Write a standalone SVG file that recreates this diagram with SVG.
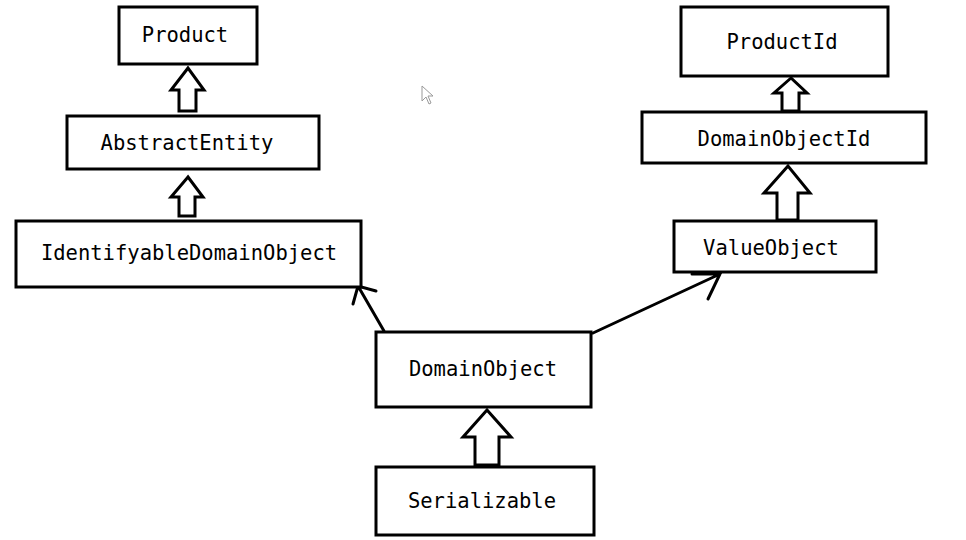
<svg xmlns="http://www.w3.org/2000/svg" width="966" height="540" viewBox="0 0 966 540">
<style>
.box{fill:#fff;stroke:#000;stroke-width:3}
.lbl{font-family:"DejaVu Sans Mono","Liberation Mono",monospace;font-size:20.5px;fill:#000;text-anchor:middle}
.blk{fill:#fff;stroke:#000;stroke-width:3;stroke-linejoin:miter}
.ln{fill:none;stroke:#000;stroke-width:3;stroke-linecap:round}
</style>
<rect width="966" height="540" fill="#fff"/>
<g id="connectors">
<polygon class="blk" points="188,68 171,90 179,90 179,111 196,111 196,90 204,90"/>
<polygon class="blk" points="188,177 171,197 179,197 179,216 195,216 195,197 203,197"/>
<polygon class="blk" points="791,78 774,93 782,93 782,111 799,111 799,93 807,93"/>
<polygon class="blk" points="788,166 764,193 777,193 777,220 798,220 798,193 810,193"/>
<polygon class="blk" points="487,410 463,437 475,437 475,465 499,465 499,437 511,437"/>
<path class="ln" d="M384,331 L358,286 M353,304 L358,286 L376,291"/>
<path class="ln" d="M593,333 L720,274 M708,299 L720,274 L692,274"/>
</g>
<g id="Product"><rect class="box" x="119" y="7" width="138" height="57"/><text class="lbl" x="185" y="42">Product</text></g>
<g id="AbstractEntity"><rect class="box" x="67" y="116" width="252" height="53"/><text class="lbl" x="187" y="150">AbstractEntity</text></g>
<g id="IdentifyableDomainObject"><rect class="box" x="16" y="221" width="345" height="66"/><text class="lbl" x="189" y="260">IdentifyableDomainObject</text></g>
<g id="ProductId"><rect class="box" x="681" y="7" width="207" height="69"/><text class="lbl" x="782" y="49">ProductId</text></g>
<g id="DomainObjectId"><rect class="box" x="642" y="112" width="284" height="51"/><text class="lbl" x="784" y="146">DomainObjectId</text></g>
<g id="ValueObject"><rect class="box" x="674" y="221" width="202" height="51"/><text class="lbl" x="771" y="255">ValueObject</text></g>
<g id="DomainObject"><rect class="box" x="376" y="332" width="215" height="75"/><text class="lbl" x="483" y="376">DomainObject</text></g>
<g id="Serializable"><rect class="box" x="376" y="467" width="218" height="68"/><text class="lbl" x="482" y="508">Serializable</text></g>
<path d="M422,86 L422,101 L426,97 L429,104 L431,103 L428,96 L433,96 Z" fill="#fff" stroke="#999" stroke-width="1"/>
</svg>
